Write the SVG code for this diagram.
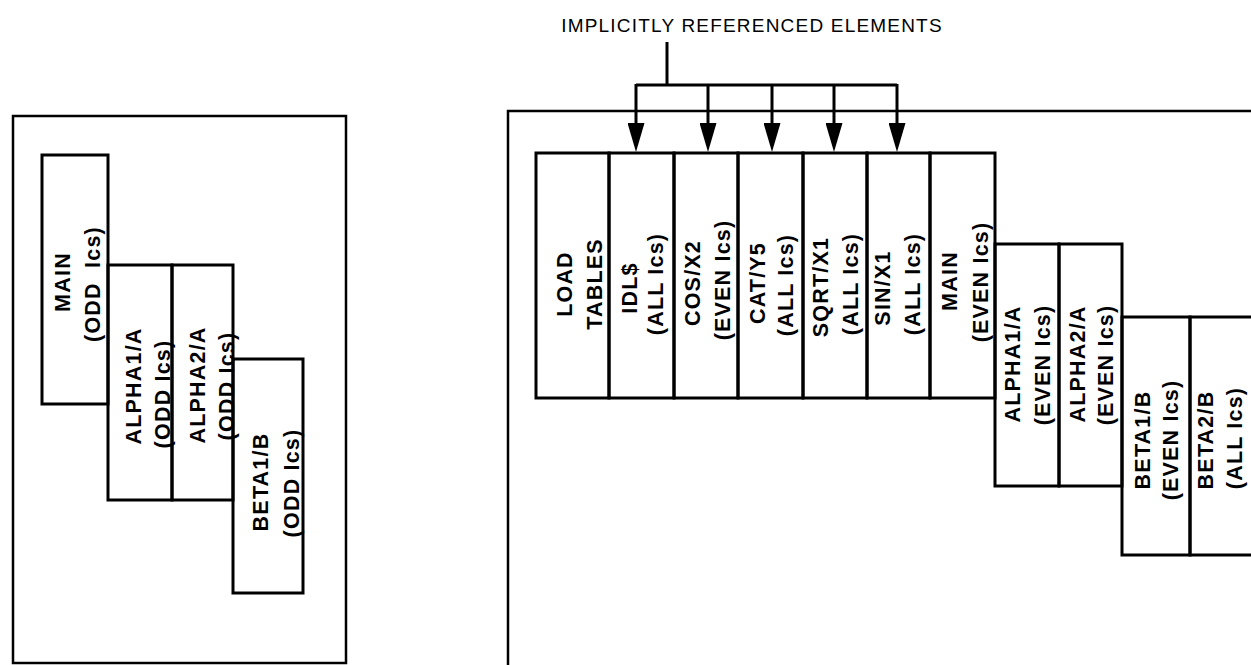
<svg xmlns="http://www.w3.org/2000/svg" width="1251" height="665" viewBox="0 0 1251 665">
  <style>
    .frame { fill: none; stroke: #000; stroke-width: 2.5; }
    .box { fill: none; stroke: #000; stroke-width: 3; }
    .wire { fill: none; stroke: #000; stroke-width: 3; }
    .lbl { font-family: "Liberation Sans", Arial, sans-serif; font-size: 21.5px; font-weight: bold; letter-spacing: 1.2px; text-anchor: middle; fill: #000; }
    .title { font-family: "Liberation Sans", Arial, sans-serif; font-size: 19px; letter-spacing: 1.2px; text-anchor: middle; fill: #000; }
  </style>
  <defs>
    <marker id="arrow" viewBox="0 -8.5 29 17" markerUnits="userSpaceOnUse" markerWidth="29" markerHeight="17" refX="0" refY="0" orient="auto">
      <path d="M0,-8.5 L29,0 L0,8.5 Z" fill="#000"/>
    </marker>
  </defs>
  <rect width="1251" height="665" fill="#fff"/>

  <!-- left overlay tree frame -->
  <rect id="frame-left" class="frame" x="13" y="116" width="333" height="547"/>
  <!-- right overlay tree frame (runs off the sheet) -->
  <path id="frame-right" class="frame" d="M508,668 V111 H1255"/>

  <!-- left tree -->
  <g id="l-main">
    <rect class="box" x="42" y="155" width="66" height="249"/>
    <text class="lbl" transform="translate(70,282) rotate(-90)">MAIN</text>
    <text class="lbl" transform="translate(100,284) rotate(-90)" xml:space="preserve">(ODD  Ics)</text>
  </g>
  <g id="l-alpha1">
    <rect class="box" x="108" y="265" width="64" height="235"/>
    <text class="lbl" transform="translate(141,386) rotate(-90)">ALPHA1/A</text>
    <text class="lbl" transform="translate(170,394) rotate(-90)">(ODD Ics)</text>
  </g>
  <g id="l-alpha2">
    <rect class="box" x="172" y="265" width="61" height="235"/>
    <text class="lbl" transform="translate(205,385) rotate(-90)">ALPHA2/A</text>
    <text class="lbl" transform="translate(234,386) rotate(-90)">(ODD Ics)</text>
  </g>
  <g id="l-beta1">
    <rect class="box" x="233" y="359" width="70" height="234"/>
    <text class="lbl" transform="translate(268,482) rotate(-90)">BETA1/B</text>
    <text class="lbl" transform="translate(299,483) rotate(-90)">(ODD Ics)</text>
  </g>

  <!-- right tree: root segment -->
  <g id="r-load">
    <rect class="box" x="536" y="153" width="73" height="245"/>
    <text class="lbl" transform="translate(572,284) rotate(-90)">LOAD</text>
    <text class="lbl" transform="translate(602,284) rotate(-90)">TABLES</text>
  </g>
  <g id="r-idl">
    <rect class="box" x="609" y="153" width="65" height="245"/>
    <text class="lbl" transform="translate(637,288) rotate(-90)">IDL$</text>
    <text class="lbl" transform="translate(663,284) rotate(-90)">(ALL Ics)</text>
  </g>
  <g id="r-cos">
    <rect class="box" x="674" y="153" width="64" height="245"/>
    <text class="lbl" transform="translate(700,283) rotate(-90)">COS/X2</text>
    <text class="lbl" transform="translate(730,280) rotate(-90)">(EVEN Ics)</text>
  </g>
  <g id="r-cat">
    <rect class="box" x="738" y="153" width="65" height="245"/>
    <text class="lbl" transform="translate(765,283) rotate(-90)">CAT/Y5</text>
    <text class="lbl" transform="translate(793,285) rotate(-90)">(ALL Ics)</text>
  </g>
  <g id="r-sqrt">
    <rect class="box" x="803" y="153" width="64" height="245"/>
    <text class="lbl" transform="translate(828,287) rotate(-90)">SQRT/X1</text>
    <text class="lbl" transform="translate(858,284) rotate(-90)">(ALL Ics)</text>
  </g>
  <g id="r-sin">
    <rect class="box" x="867" y="153" width="63" height="245"/>
    <text class="lbl" transform="translate(890,288) rotate(-90)">SIN/X1</text>
    <text class="lbl" transform="translate(920,284) rotate(-90)">(ALL Ics)</text>
  </g>
  <g id="r-main">
    <rect class="box" x="930" y="153" width="65" height="245"/>
    <text class="lbl" transform="translate(957,281) rotate(-90)">MAIN</text>
    <text class="lbl" transform="translate(988,282) rotate(-90)">(EVEN Ics)</text>
  </g>
  <!-- right tree: overlay segments -->
  <g id="r-alpha1">
    <rect class="box" x="995" y="244" width="64" height="242"/>
    <text class="lbl" transform="translate(1020,364) rotate(-90)">ALPHA1/A</text>
    <text class="lbl" transform="translate(1050,365) rotate(-90)">(EVEN Ics)</text>
  </g>
  <g id="r-alpha2">
    <rect class="box" x="1059" y="244" width="63" height="242"/>
    <text class="lbl" transform="translate(1085,364) rotate(-90)">ALPHA2/A</text>
    <text class="lbl" transform="translate(1113,365) rotate(-90)">(EVEN Ics)</text>
  </g>
  <g id="r-beta1">
    <rect class="box" x="1122" y="317" width="68" height="238"/>
    <text class="lbl" transform="translate(1150,440) rotate(-90)">BETA1/B</text>
    <text class="lbl" transform="translate(1178,440) rotate(-90)">(EVEN Ics)</text>
  </g>
  <g id="r-beta2">
    <rect class="box" x="1190" y="317" width="80" height="238"/>
    <text class="lbl" transform="translate(1213,440) rotate(-90)">BETA2/B</text>
    <text class="lbl" transform="translate(1242,438) rotate(-90)">(ALL Ics)</text>
  </g>

  <!-- callout -->
  <g id="callout">
    <text class="title" x="752" y="32">IMPLICITLY REFERENCED ELEMENTS</text>
  </g>
  <g id="connectors">
    <path class="wire" d="M667,42 V85 M636,85 H897"/>
    <path class="wire" d="M636,84 V123" marker-end="url(#arrow)"/>
    <path class="wire" d="M708,84 V123" marker-end="url(#arrow)"/>
    <path class="wire" d="M772,84 V123" marker-end="url(#arrow)"/>
    <path class="wire" d="M834,84 V123" marker-end="url(#arrow)"/>
    <path class="wire" d="M897,84 V123" marker-end="url(#arrow)"/>
  </g>
</svg>
